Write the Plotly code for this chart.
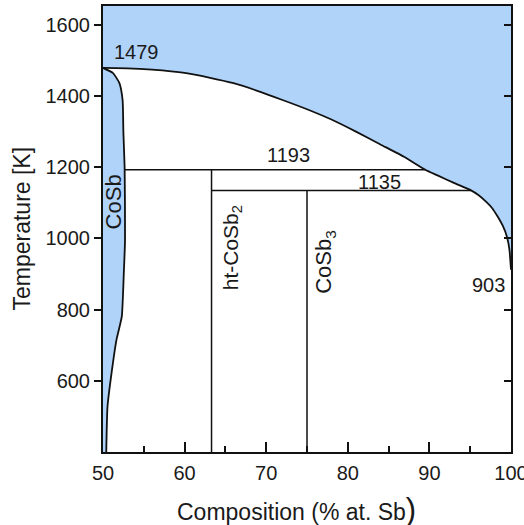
import plotly.graph_objects as go

# ---------------- data ----------------
# liquidus curve (upper boundary of the two-phase field, liquid above)
liq_x = [50, 53, 56, 60, 63, 66, 69, 72, 75, 78, 81, 84, 87, 89.5, 91, 93, 95.1,
         96, 97, 97.7, 98.4, 99, 99.5, 99.8, 100]
liq_T = [1479, 1478, 1474, 1465, 1452, 1436, 1414, 1389, 1363, 1334, 1300, 1264,
         1228, 1193, 1177, 1156, 1135, 1122, 1102, 1085, 1060, 1035, 1005, 970, 912]

# right boundary of the CoSb homogeneity range
cosb_x = [50, 51.2, 52.0, 52.4, 52.5, 52.65, 52.7, 52.55, 52.3, 51.65, 51.05, 50.55, 50.4]
cosb_T = [1479, 1465, 1437, 1389, 1297, 1200, 996, 903, 780, 715, 622, 527, 400]

# invariant (horizontal) lines
inv_T = [1193, 1135]
inv_x0 = [52.7, 63.3]
inv_x1 = [89.5, 95.1]

# line compounds (vertical lines)
comp_x = [63.3, 75]
comp_top = [1193, 1135]

# labelled temperatures
melt_T = [1479, 903]

x_ticks = [50, 60, 70, 80, 90, 100]
x_minor = [55, 65, 75, 85, 95]
y_ticks = [600, 800, 1000, 1200, 1400, 1600]
x_range = [50, 100]
y_range = [400, 1653]

# ---------------- styling ----------------
FILL = "rgb(176,211,250)"
LINE = "#111111"
FONT = "Liberation Sans, Arial, sans-serif"
TXT = "#1a1a1a"

fig = go.Figure()

# liquid region fill
fig.add_trace(go.Scatter(
    x=liq_x + [x_range[1], x_range[0]],
    y=liq_T + [y_range[1] + 100, y_range[1] + 100],
    fill="toself", fillcolor=FILL, mode="none", hoverinfo="skip", showlegend=False))

# CoSb region fill
fig.add_trace(go.Scatter(
    x=cosb_x + [x_range[0]],
    y=cosb_T + [y_range[0]],
    fill="toself", fillcolor=FILL, mode="none", hoverinfo="skip", showlegend=False))

# liquidus line
fig.add_trace(go.Scatter(x=liq_x, y=liq_T, mode="lines",
                         line=dict(color=LINE, width=1.8, shape="spline", smoothing=0.5),
                         hoverinfo="skip", showlegend=False))
# CoSb boundary line
fig.add_trace(go.Scatter(x=cosb_x, y=cosb_T, mode="lines",
                         line=dict(color=LINE, width=1.8, shape="spline", smoothing=0.5),
                         hoverinfo="skip", showlegend=False))

# horizontal invariant lines
hx, hy = [], []
for t, a, b in zip(inv_T, inv_x0, inv_x1):
    hx += [a, b, None]
    hy += [t, t, None]
fig.add_trace(go.Scatter(x=hx, y=hy, mode="lines", line=dict(color=LINE, width=1.5),
                         hoverinfo="skip", showlegend=False))

# vertical compound lines
vx, vy = [], []
for c, t in zip(comp_x, comp_top):
    vx += [c, c, None]
    vy += [y_range[0], t, None]
fig.add_trace(go.Scatter(x=vx, y=vy, mode="lines", line=dict(color=LINE, width=1.5),
                         hoverinfo="skip", showlegend=False))

# invisible trace so the right-hand axis (inward ticks) is drawn
fig.add_trace(go.Scatter(x=liq_x, y=liq_T, yaxis="y2", mode="markers",
                         marker=dict(opacity=0), showlegend=False, hoverinfo="skip"))

ann_font = dict(family=FONT, size=20, color=TXT)
lab_font = dict(family=FONT, size=21, color=TXT)
annotations = [
    dict(x=54.1, y=1524, text=str(melt_T[0]), font=ann_font),
    dict(x=72.7, y=1234, text=str(inv_T[0]), font=ann_font),
    dict(x=83.9, y=1158, text=str(inv_T[1]), font=ann_font),
    dict(x=97.3, y=868, text=str(melt_T[1]), font=ann_font),
    dict(x=51.3, y=1103, text="CoSb", textangle=-90, font=dict(lab_font, size=22)),
    dict(x=65.8, y=975, text="ht-CoSb<sub>2</sub>", textangle=-90, font=lab_font),
    dict(x=77.2, y=934, text="CoSb<sub>3</sub>", textangle=-90, font=dict(lab_font, size=22)),
    dict(xref="paper", yref="paper", x=-0.1975, y=0.502, text="Temperature [K]",
         textangle=-90, font=dict(family=FONT, size=23, color=TXT)),
    dict(xref="paper", yref="paper", x=0.475, y=-0.128,
         text="Composition (% at. Sb<span style='font-size:31px'>)</span>",
         font=dict(family=FONT, size=23, color=TXT)),
]
for a in annotations:
    a.setdefault("xref", "x")
    a.setdefault("yref", "y")
    a["showarrow"] = False
    a["xanchor"] = "center"
    a["yanchor"] = "middle"

fig.update_layout(
    width=524, height=525,
    margin=dict(l=103, r=13, t=6, b=73, autoexpand=False),
    paper_bgcolor="white", plot_bgcolor="white",
    annotations=annotations,
    xaxis=dict(range=x_range, tickvals=x_ticks, ticks="inside", ticklen=10, tickwidth=1.5,
               tickcolor=LINE, showline=True, linewidth=2, linecolor=LINE, mirror=True,
               showgrid=False, zeroline=False, ticklabelstandoff=2,
               ticklabeloverflow="allow", automargin=False,
               tickfont=dict(family=FONT, size=20, color=TXT),
               minor=dict(tickvals=x_minor, ticks="inside", ticklen=6, tickwidth=1.5,
                          tickcolor=LINE, showgrid=False)),
    yaxis=dict(range=y_range, tickvals=y_ticks, ticks="outside", ticklen=7, tickwidth=1.5,
               tickcolor=LINE, showline=True, linewidth=2, linecolor=LINE, mirror=True,
               showgrid=False, zeroline=False, automargin=False,
               tickfont=dict(family=FONT, size=20, color=TXT)),
    yaxis2=dict(range=y_range, tickvals=y_ticks, ticks="inside", ticklen=7, tickwidth=1.5,
                tickcolor=LINE, showline=True, linewidth=2, linecolor=LINE,
                overlaying="y", side="right", showticklabels=False, automargin=False,
                showgrid=False, zeroline=False),
)

fig.write_html("out.html")
